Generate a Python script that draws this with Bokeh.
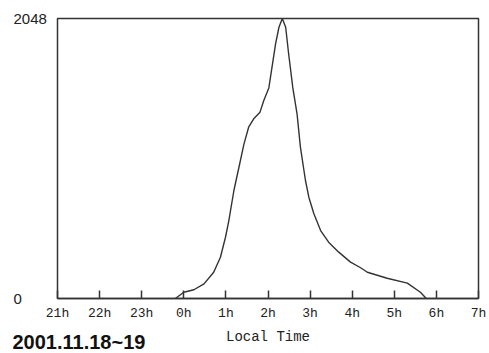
from bokeh.plotting import figure
from bokeh.models import FixedTicker, Label, BoxAnnotation
from bokeh.embed import file_html
from bokeh.resources import INLINE

# Data (hours on a continuous scale: 24 = 0h, 25 = 1h, ...)
hours = [23.80, 24.00, 24.24, 24.48, 24.71, 24.87, 24.99, 25.07, 25.19, 25.31,
         25.43, 25.54, 25.66, 25.81, 25.90, 26.02, 26.18, 26.26, 26.34, 26.42,
         26.49, 26.59, 26.69, 26.77, 26.89, 26.97, 27.09, 27.25, 27.44, 27.68,
         27.96, 28.20, 28.36, 28.83, 29.31, 29.62, 29.76]
counts = [0, 46, 64, 107, 192, 302, 448, 570, 790, 960,
          1131, 1253, 1314, 1363, 1448, 1540, 1863, 1984, 2048, 1984,
          1790, 1540, 1351, 1107, 863, 741, 620, 497, 412, 339,
          266, 225, 192, 148, 112, 46, 0]
tick_pos = [21, 22, 23, 24, 25, 26, 27, 28, 29, 30, 31]
tick_labels = ["21h", "22h", "23h", "0h", "1h", "2h", "3h", "4h", "5h", "6h", "7h"]
y_ticks = [0, 2048]
y_labels = ["0", "2048"]
x_title = "Local Time"
date_text = "2001.11.18~19"

# Canvas layout (pixels): plot box spans x 57..478, y 18..298 in a 489x353 canvas
W, H = 489, 353
BOX_L, BOX_R, BOX_T, BOX_B = 57, 478, 18, 298
x0, x1 = tick_pos[0], tick_pos[-1]
y0, y1 = y_ticks[0], y_ticks[-1]
xs = (x1 - x0) / (BOX_R - BOX_L)
ys = (y1 - y0) / (BOX_B - BOX_T)
x_range = (x0 - BOX_L * xs, x1 + (W - BOX_R) * xs)
y_range = (y0 - (H - BOX_B) * ys, y1 + BOX_T * ys)

p = figure(width=W, height=H, output_backend="svg", toolbar_location=None,
           x_range=x_range, y_range=y_range,
           min_border_left=0, min_border_right=0, min_border_top=0, min_border_bottom=0)
p.background_fill_color = "white"
p.border_fill_color = "white"
p.outline_line_color = None
p.grid.visible = False
p.yaxis.visible = False

# plot box
p.add_layout(BoxAnnotation(left=x0, right=x1, bottom=y0, top=y1,
                           fill_alpha=0, fill_color=None,
                           line_color="#333333", line_alpha=1.0, line_width=1.5))

xa = p.xaxis[0]
xa.fixed_location = y0
xa.bounds = (x0, x1)
xa.ticker = FixedTicker(ticks=tick_pos)
xa.major_label_overrides = {t: l for t, l in zip(tick_pos, tick_labels)}
xa.major_tick_in = 8
xa.major_tick_out = 0
xa.minor_tick_line_color = None
xa.axis_line_color = "#333333"
xa.axis_line_width = 1.5
xa.major_tick_line_color = "#333333"
xa.major_tick_line_width = 1.5
xa.major_label_text_font = "Liberation Mono"
xa.major_label_text_font_size = "13px"
xa.major_label_text_color = "#222222"
xa.major_label_standoff = 7
xa.axis_label = x_title
xa.axis_label_text_font = "Liberation Mono"
xa.axis_label_text_font_style = "normal"
xa.axis_label_text_font_size = "14px"
xa.axis_label_text_color = "#222222"
xa.axis_label_standoff = 5

p.line(hours, counts, line_color="#333333", line_width=1.4)

for yv, yl in zip(y_ticks, y_labels):
    p.add_layout(Label(x=13, x_units="screen", y=yv, text=yl,
                       text_font="Liberation Sans", text_font_size="15px",
                       text_color="#222222", text_baseline="middle", text_align="left"))

p.add_layout(Label(x=12, x_units="screen", y=12, y_units="screen", text=date_text,
                   text_font="Liberation Sans", text_font_style="bold",
                   text_font_size="20px", text_color="#111111",
                   text_baseline="middle", text_align="left"))

open("out.html", "w").write(file_html(p, INLINE))
